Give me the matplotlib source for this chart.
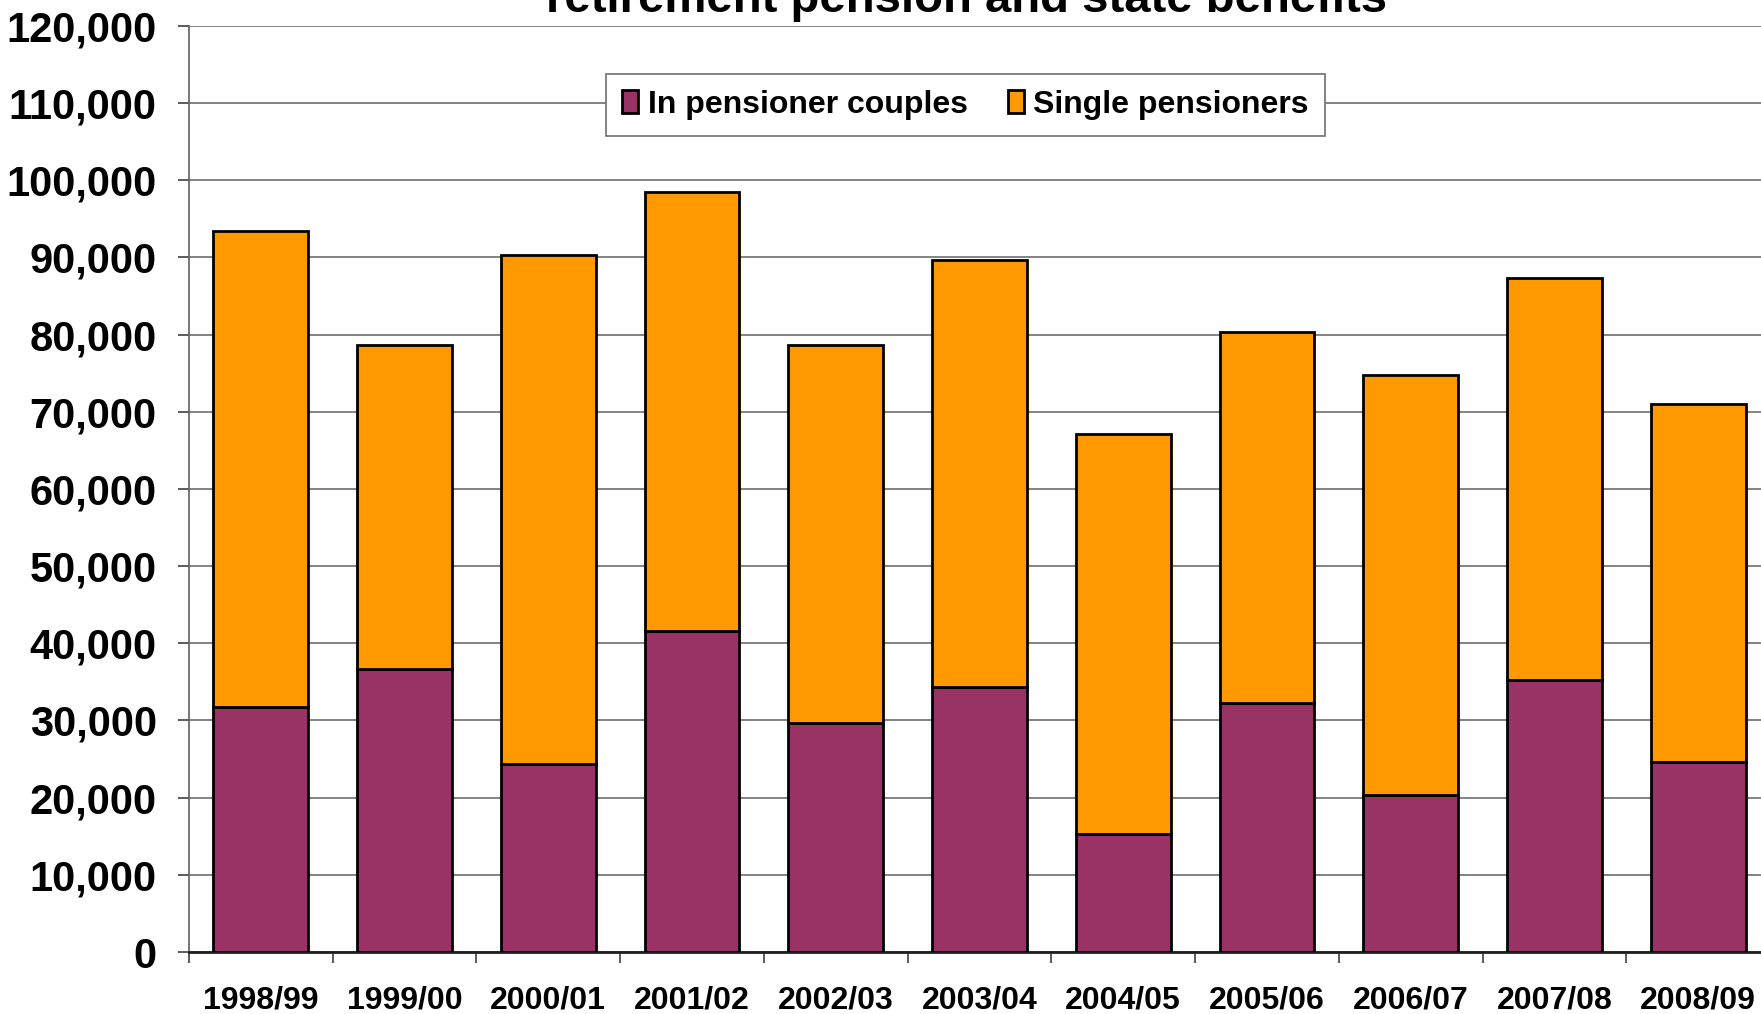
import numpy as np
import matplotlib
matplotlib.use("Agg")
import matplotlib.pyplot as plt
from matplotlib.ticker import FuncFormatter, FixedLocator

# -------------------------
# Data
# -------------------------

years = [
    "1998/99", "1999/00", "2000/01", "2001/02", "2002/03", "2003/04",
    "2004/05", "2005/06", "2006/07", "2007/08", "2008/09"
]

couples = [31700, 36700, 24300, 41600, 29700, 34300, 15300, 32300, 20400, 35200, 24600]
singles = [61700, 42000, 66000, 56900, 49000, 55400, 51800, 48000, 54400, 52100, 46400]

series_names = ["In pensioner couples", "Single pensioners"]
title_text = "retirement pension and state benefits"

# -------------------------
# Plot
# -------------------------

plt.rcParams["font.family"] = ["Liberation Sans", "DejaVu Sans"]
plt.rcParams["font.weight"] = "bold"

fig = plt.figure(figsize=(17.61, 10.14), dpi=100)
ax = fig.add_axes([0.1072, 0.0611, 0.898, 0.9135])

x = np.arange(len(years))

ax.bar(x, couples, width=0.66, color="#993366", edgecolor="black",
       linewidth=2, label=series_names[0], zorder=3)
ax.bar(x, singles, width=0.66, bottom=couples, color="#FF9900",
       edgecolor="black", linewidth=2, label=series_names[1], zorder=3)

ax.set_xlim(-0.5, len(years) - 0.5)
ax.set_ylim(0, 120000)
ax.set_yticks(np.arange(0, 120001, 10000))
ax.yaxis.set_major_formatter(FuncFormatter(lambda v, p: f"{int(v):,}"))

ax.set_xticks(x)
ax.set_xticklabels(years, fontsize=23, fontweight="bold")
ax.tick_params(axis="x", which="major", length=0, pad=24)
ax.xaxis.set_minor_locator(FixedLocator(np.arange(-0.5, len(years), 1.0)))
ax.tick_params(axis="x", which="minor", length=8, width=1.2,
               direction="out", color="#404040")

ax.tick_params(axis="y", labelsize=30, length=8, width=1.2,
               direction="out", pad=15, color="#404040")
for lab in ax.get_yticklabels():
    lab.set_fontweight("bold")

ax.grid(axis="y", color="#6e6e6e", linewidth=1.2, zorder=0)
ax.set_axisbelow(True)

ax.spines["top"].set_visible(False)
ax.spines["right"].set_visible(False)
ax.spines["left"].set_color("#606060")
ax.spines["left"].set_linewidth(1.2)
ax.spines["bottom"].set_color("#202020")
ax.spines["bottom"].set_linewidth(2)

leg = ax.legend(
    loc="upper left",
    bbox_to_anchor=(0.264, 0.948),
    ncol=2,
    frameon=True,
    fancybox=False,
    borderaxespad=0,
    borderpad=0.5,
    handlelength=0.5,
    handleheight=0.75,
    handletextpad=0.3,
    columnspacing=1.25,
    prop={"size": 23, "weight": "bold"},
)
leg.get_frame().set_edgecolor("#707070")
leg.get_frame().set_linewidth(1.2)
leg.get_frame().set_alpha(1)

fig.text(0.549, 1002 / 1014, title_text, ha="center", va="baseline",
         fontsize=34, fontweight="bold")

fig.savefig("out.png", dpi=100)
